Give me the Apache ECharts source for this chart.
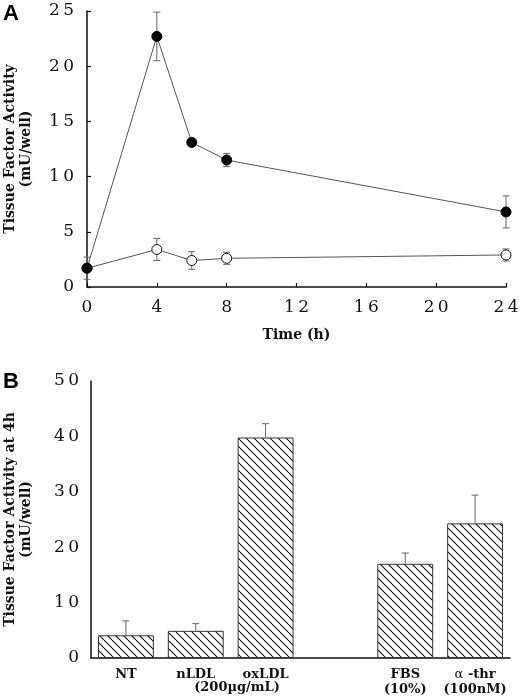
<!DOCTYPE html>
<html>
<head>
<meta charset="utf-8">
<script src="https://cdn.jsdelivr.net/npm/echarts@6/dist/echarts.min.js"></script>
<style>
  html, body { margin: 0; padding: 0; background: #fff; }
  #main { width: 520px; height: 698px; }
</style>
</head>
<body>
<div id="main"></div>
<script>
// panel A - time course
var hours = [0, 4, 6, 8, 24];
var oxLdlTF = [1.7, 22.7, 13.1, 11.5, 6.8];
var oxLdlErr = [1.0, 2.2, 0, 0.6, 1.45];
var nLdlTF = [1.7, 3.4, 2.4, 2.6, 2.9];
var nLdlErr = [0, 1.0, 0.8, 0.55, 0.55];

// panel B - 4h stimulation
var stimuli = ['NT', 'nLDL', 'oxLDL', '', 'FBS\n(10%)', 'α -thr\n(100nM)'];
var tf4h = [4.1, 4.9, 39.8, null, 17.0, 24.3];
var tf4hErr = [2.6, 1.3, 2.5, null, 1.95, 5.1];

var serif = '"DejaVu Serif", "Liberation Serif", serif';

// diagonal hatch for bars
function hatch() {
    var s = 8;
    var c = document.createElement('canvas');
    c.width = s; c.height = s;
    var ctx = c.getContext('2d');
    ctx.fillStyle = '#fff';
    ctx.fillRect(0, 0, s, s);
    ctx.strokeStyle = '#111';
    ctx.lineWidth = 1.1;
    for (var k = -1; k <= 1; k++) {
        ctx.beginPath();
        ctx.moveTo(k * s, 0);
        ctx.lineTo(k * s + s, s);
        ctx.stroke();
    }
    return c;
}

// tick digits are spread out in the original
function spaced(v) {
    return String(v).split('').join('\u2009');
}

// greek letter is not bold in the original
function catLabel(v) {
    return v.indexOf('α') === 0 ? '{g|α}' + v.slice(1) : v;
}

// error bars, both=true draws down as well
function errBar(errs, both) {
    return function (params, api) {
        var i = params.dataIndex;
        var e = errs[i];
        if (e == null || !e) return;
        var x = api.value(0), y = api.value(1);
        var top = api.coord([x, y + e]);
        var bot = api.coord([x, both ? y - e : y]);
        var w = 3.5;
        var st = { stroke: '#666', lineWidth: 1 };
        var kids = [
            { type: 'line', shape: { x1: top[0], y1: top[1], x2: bot[0], y2: bot[1] }, style: st },
            { type: 'line', shape: { x1: top[0] - w, y1: top[1], x2: top[0] + w, y2: top[1] }, style: st }
        ];
        if (both) {
            kids.push({ type: 'line', shape: { x1: bot[0] - w, y1: bot[1], x2: bot[0] + w, y2: bot[1] }, style: st });
        }
        return { type: 'group', children: kids };
    };
}

var chart = echarts.init(document.getElementById('main'));

var axisText = { color: '#111', fontFamily: serif, fontSize: 17 };
var nameText = { color: '#111', fontFamily: serif, fontSize: 14, fontWeight: 'bold', lineHeight: 16 };
var axLine = { lineStyle: { color: '#111', width: 1.5 } };
var axTick = { inside: true, length: 4, lineStyle: { color: '#111', width: 1.2 } };

var option = {
    backgroundColor: '#fff',
    animation: false,
    grid: [
        { left: 87, right: 14, top: 11, height: 276, outerBoundsMode: 'none', containLabel: false },
        { left: 91, right: 10, top: 381, height: 277, outerBoundsMode: 'none', containLabel: false }
    ],
    xAxis: [
        {
            gridIndex: 0, type: 'value', min: 0, max: 24, interval: 4,
            name: 'Time (h)', nameLocation: 'middle', nameGap: 40, nameTextStyle: nameText,
            axisLine: axLine, axisTick: axTick, splitLine: { show: false },
            axisLabel: Object.assign({ margin: 12, formatter: spaced }, axisText)
        },
        {
            gridIndex: 1, type: 'category', data: stimuli,
            axisLine: axLine, axisTick: { show: false },
            axisLabel: {
                color: '#111', fontFamily: serif, fontSize: 13, fontWeight: 'bold', lineHeight: 15, margin: 9, interval: 0,
                formatter: catLabel,
                rich: { g: { fontFamily: serif, fontSize: 13, fontWeight: 'normal', color: '#111', lineHeight: 15 } }
            }
        }
    ],
    yAxis: [
        {
            gridIndex: 0, type: 'value', min: 0, max: 25, interval: 5,
            name: 'Tissue Factor Activity\n(mU/well)', nameLocation: 'middle', nameGap: 53, nameTextStyle: nameText,
            axisLine: Object.assign({ show: true }, axLine), axisTick: axTick, splitLine: { show: false },
            axisLabel: Object.assign({ margin: 13, formatter: spaced }, axisText)
        },
        {
            gridIndex: 1, type: 'value', min: 0, max: 50, interval: 10,
            name: 'Tissue Factor Activity at 4h\n(mU/well)', nameLocation: 'middle', nameGap: 57, nameTextStyle: nameText,
            axisLine: Object.assign({ show: true }, axLine), axisTick: axTick, splitLine: { show: false },
            axisLabel: Object.assign({ margin: 12, formatter: spaced }, axisText)
        }
    ],
    graphic: [
        { type: 'text', left: 3, top: 3, style: { text: 'A', font: 'bold 22px "Liberation Sans", Arial, sans-serif', fill: '#000' } },
        { type: 'text', left: 3, top: 371, style: { text: 'B', font: 'bold 22px "Liberation Sans", Arial, sans-serif', fill: '#000' } },
        { type: 'text', x: 237, y: 681, style: { text: '(200µg/mL)', font: 'bold 13px ' + serif, fill: '#111', align: 'center' } }
    ],
    series: [
        {
            name: 'nLDL', type: 'line', xAxisIndex: 0, yAxisIndex: 0,
            data: hours.map(function (h, i) { return [h, nLdlTF[i]]; }),
            symbol: 'circle', symbolSize: 10,
            lineStyle: { color: '#555', width: 1 },
            itemStyle: { color: '#fff', borderColor: '#111', borderWidth: 1 },
            z: 3
        },
        {
            name: 'oxLDL', type: 'line', xAxisIndex: 0, yAxisIndex: 0,
            data: hours.map(function (h, i) { return [h, oxLdlTF[i]]; }),
            symbol: 'circle', symbolSize: 10,
            lineStyle: { color: '#555', width: 1 },
            itemStyle: { color: '#000', borderColor: '#000', borderWidth: 1 },
            z: 4
        },
        {
            type: 'custom', xAxisIndex: 0, yAxisIndex: 0, z: 2,
            data: hours.map(function (h, i) { return [h, oxLdlTF[i]]; }),
            renderItem: errBar(oxLdlErr, true)
        },
        {
            type: 'custom', xAxisIndex: 0, yAxisIndex: 0, z: 2,
            data: hours.map(function (h, i) { return [h, nLdlTF[i]]; }),
            renderItem: errBar(nLdlErr, true)
        },
        {
            name: 'TF at 4h', type: 'bar', xAxisIndex: 1, yAxisIndex: 1,
            data: tf4h, barWidth: '80%',
            itemStyle: { color: { image: hatch(), repeat: 'repeat' }, borderColor: '#333', borderWidth: 1 }
        },
        {
            type: 'custom', xAxisIndex: 1, yAxisIndex: 1, z: 5,
            data: tf4h.map(function (v, i) { return [i, v]; }),
            renderItem: errBar(tf4hErr, false)
        }
    ]
};

chart.setOption(option);
</script>
</body>
</html>
